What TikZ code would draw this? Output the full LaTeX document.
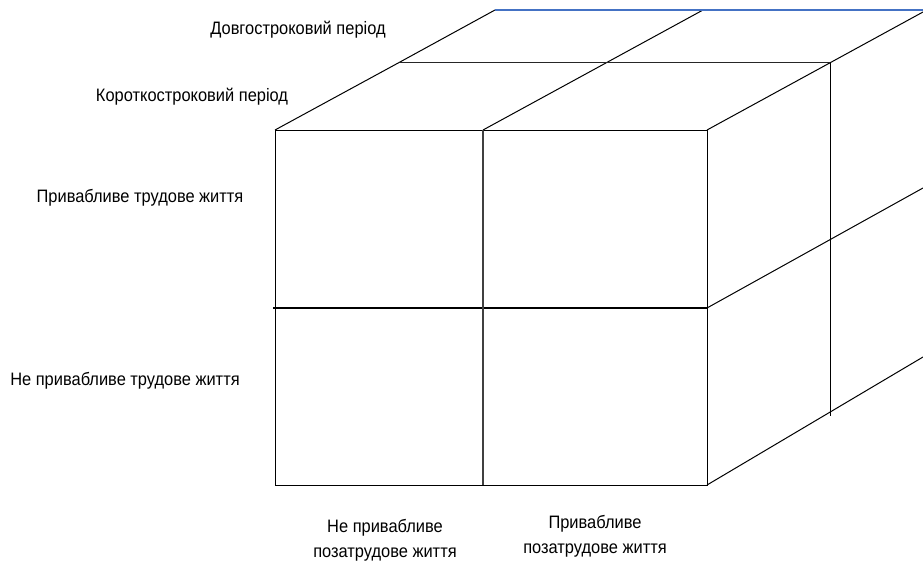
\documentclass[tikz,border=0pt]{standalone}
\usepackage{fontspec}
\setmainfont{Liberation Sans}[FakeStretch=0.913]
\begin{document}
\begin{tikzpicture}[x=1pt,y=-1pt,
  edge/.style={line width=1pt,black},
  lbl/.style={font=\fontsize{18}{25}\selectfont,inner sep=0pt,align=center}]
\useasboundingbox (0,0) rectangle (923,562);
% front face
\coordinate (FTL) at (275,130);
\coordinate (FTM) at (483,130);
\coordinate (FTR) at (707,130);
\coordinate (FML) at (273,308);
\coordinate (FMR) at (707,308);
\coordinate (FBL) at (275,485);
\coordinate (FBM) at (483,485);
\coordinate (FBR) at (707,485);
% middle depth layer
\coordinate (MTL) at (400,62);
\coordinate (MTR) at (830,62);
\coordinate (MMR) at (830,240);
\coordinate (MBR) at (830,416);
% back layer (cropped)
\coordinate (BTL) at (495,10);
\coordinate (BTM) at (703,10);
\coordinate (BTR) at (923,10);
\coordinate (RT) at (923,12);
\coordinate (RM) at (923,188);
\coordinate (RB) at (923,357);
% front face
\draw[edge] (FTL) -- (FTR) -- (FBR) -- (FBL) -- cycle;
\draw[line width=1.4pt] (FML) -- (FMR);
\draw[line width=1.2pt,black!75] (FTM) -- (FBM);
% top face
\draw[edge] (FTL) -- (MTL) -- (BTL);
\draw[edge] (FTM) -- (BTM);
\draw[edge] (FTR) -- (RT);
\draw[edge,black!85] (MTL) -- (MTR);
\draw[line width=1.2pt,color={rgb,255:red,68;green,114;blue,196}] (BTL) -- (BTR);
% right face
\draw[edge] (MTR) -- (MBR);
\draw[edge] (FMR) -- (RM);
\draw[edge] (FBR) -- (RB);
% labels
\node[lbl] (long) at (298,30) {Довгостроковий період};
\node[lbl] (short) at (192,97) {Короткостроковий період};
\node[lbl] (att) at (140,198) {Привабливе трудове життя};
\node[lbl] (natt) at (125,381) {Не привабливе трудове життя};
\node[lbl] (nap) at (385,540) {Не привабливе\\позатрудове життя};
\node[lbl] (ap) at (595,536) {Привабливе\\позатрудове життя};
\end{tikzpicture}
\end{document}
